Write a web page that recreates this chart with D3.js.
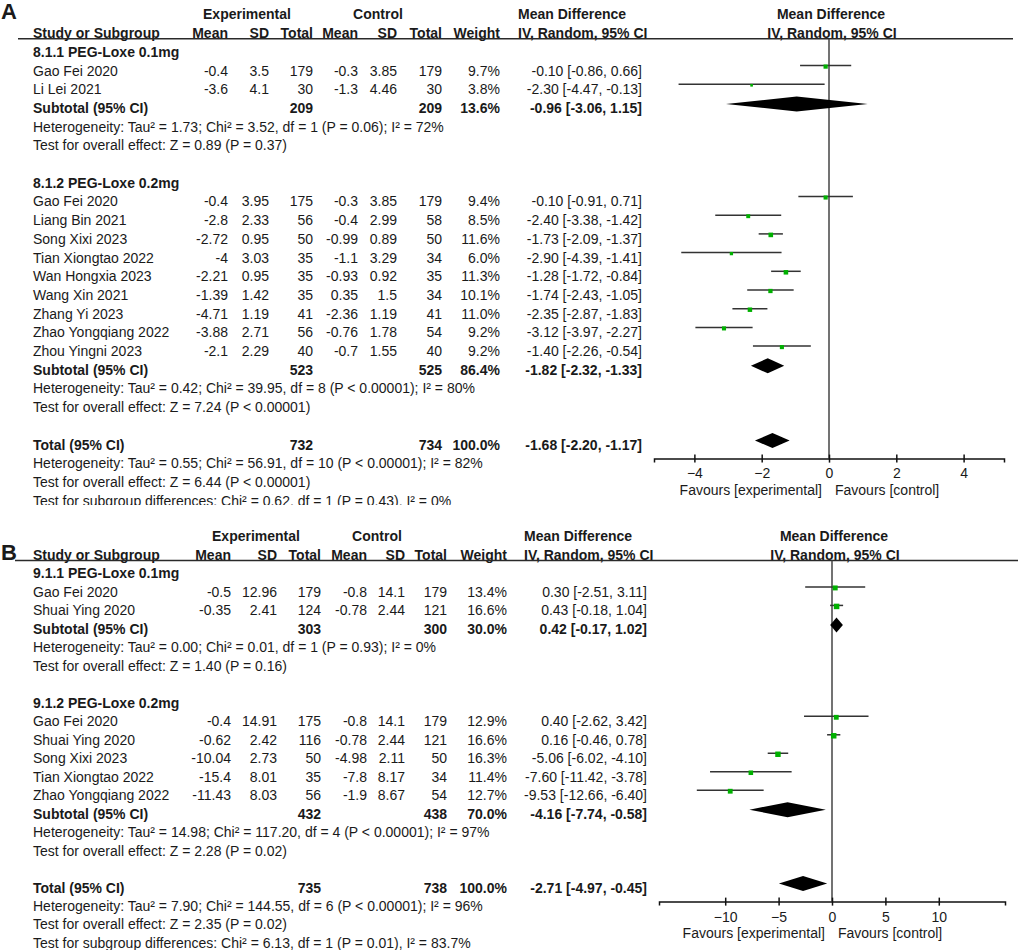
<!DOCTYPE html>
<html><head><meta charset="utf-8">
<script src="https://cdn.jsdelivr.net/npm/d3@7"></script>
<style>
body{margin:0;background:#fff}
text{font-family:"Liberation Sans",Arial,sans-serif;fill:#1a1a1a}
</style>
</head><body>
<svg id="c" width="1024" height="950"></svg>
<script>
// ---------------- Panel A data ----------------
const A_groups = ["8.1.1 PEG-Loxe 0.1mg", "8.1.2 PEG-Loxe 0.2mg"];
const A_study = ["Gao Fei 2020","Li Lei 2021","Gao Fei 2020","Liang Bin 2021","Song Xixi 2023","Tian Xiongtao 2022","Wan Hongxia 2023","Wang Xin 2021","Zhang Yi 2023","Zhao Yongqiang 2022","Zhou Yingni 2023"];
const A_group = [0,0,1,1,1,1,1,1,1,1,1];
const A_expMean = [-0.4,-3.6,-0.4,-2.8,-2.72,-4,-2.21,-1.39,-4.71,-3.88,-2.1];
const A_expSD = [3.5,4.1,3.95,2.33,0.95,3.03,0.95,1.42,1.19,2.71,2.29];
const A_expN = [179,30,175,56,50,35,35,35,41,56,40];
const A_ctlMean = [-0.3,-1.3,-0.3,-0.4,-0.99,-1.1,-0.93,0.35,-2.36,-0.76,-0.7];
const A_ctlSD = [3.85,4.46,3.85,2.99,0.89,3.29,0.92,1.5,1.19,1.78,1.55];
const A_ctlN = [179,30,179,58,50,34,35,34,41,54,40];
const A_weight = [9.7,3.8,9.4,8.5,11.6,6.0,11.3,10.1,11.0,9.2,9.2];
const A_md = [-0.10,-2.30,-0.10,-2.40,-1.73,-2.90,-1.28,-1.74,-2.35,-3.12,-1.40];
const A_lo = [-0.86,-4.47,-0.91,-3.38,-2.09,-4.39,-1.72,-2.43,-2.87,-3.97,-2.26];
const A_hi = [0.66,-0.13,0.71,-1.42,-1.37,-1.41,-0.84,-1.05,-1.83,-2.27,-0.54];
const A_subExpN = [209,523];
const A_subCtlN = [209,525];
const A_subWeight = [13.6,86.4];
const A_subMd = [-0.96,-1.82];
const A_subLo = [-3.06,-2.32];
const A_subHi = [1.15,-1.33];
const A_subHet = ["Heterogeneity: Tau² = 1.73; Chi² = 3.52, df = 1 (P = 0.06); I² = 72%",
                  "Heterogeneity: Tau² = 0.42; Chi² = 39.95, df = 8 (P < 0.00001); I² = 80%"];
const A_subTest = ["Test for overall effect: Z = 0.89 (P = 0.37)",
                   "Test for overall effect: Z = 7.24 (P < 0.00001)"];
const A_totalN = [732,734];
const A_totalEst = [-1.68,-2.20,-1.17];
const A_totalNotes = ["Heterogeneity: Tau² = 0.55; Chi² = 56.91, df = 10 (P < 0.00001); I² = 82%",
                      "Test for overall effect: Z = 6.44 (P < 0.00001)",
                      "Test for subgroup differences: Chi² = 0.62, df = 1 (P = 0.43), I² = 0%"];
const A_ticks = [-4,-2,0,2,4];
const A_domain = [-5.2,5.2];

// ---------------- Panel B data ----------------
const B_groups = ["9.1.1 PEG-Loxe 0.1mg", "9.1.2 PEG-Loxe 0.2mg"];
const B_study = ["Gao Fei 2020","Shuai Ying 2020","Gao Fei 2020","Shuai Ying 2020","Song Xixi 2023","Tian Xiongtao 2022","Zhao Yongqiang 2022"];
const B_group = [0,0,1,1,1,1,1];
const B_expMean = [-0.5,-0.35,-0.4,-0.62,-10.04,-15.4,-11.43];
const B_expSD = [12.96,2.41,14.91,2.42,2.73,8.01,8.03];
const B_expN = [179,124,175,116,50,35,56];
const B_ctlMean = [-0.8,-0.78,-0.8,-0.78,-4.98,-7.8,-1.9];
const B_ctlSD = [14.1,2.44,14.1,2.44,2.11,8.17,8.67];
const B_ctlN = [179,121,179,121,50,34,54];
const B_weight = [13.4,16.6,12.9,16.6,16.3,11.4,12.7];
const B_md = [0.30,0.43,0.40,0.16,-5.06,-7.60,-9.53];
const B_lo = [-2.51,-0.18,-2.62,-0.46,-6.02,-11.42,-12.66];
const B_hi = [3.11,1.04,3.42,0.78,-4.10,-3.78,-6.40];
const B_subExpN = [303,432];
const B_subCtlN = [300,438];
const B_subWeight = [30.0,70.0];
const B_subMd = [0.42,-4.16];
const B_subLo = [-0.17,-7.74];
const B_subHi = [1.02,-0.58];
const B_subHet = ["Heterogeneity: Tau² = 0.00; Chi² = 0.01, df = 1 (P = 0.93); I² = 0%",
                  "Heterogeneity: Tau² = 14.98; Chi² = 117.20, df = 4 (P < 0.00001); I² = 97%"];
const B_subTest = ["Test for overall effect: Z = 1.40 (P = 0.16)",
                   "Test for overall effect: Z = 2.28 (P = 0.02)"];
const B_totalN = [735,738];
const B_totalEst = [-2.71,-4.97,-0.45];
const B_totalNotes = ["Heterogeneity: Tau² = 7.90; Chi² = 144.55, df = 6 (P < 0.00001); I² = 96%",
                      "Test for overall effect: Z = 2.35 (P = 0.02)",
                      "Test for subgroup differences: Chi² = 6.13, df = 1 (P = 0.01), I² = 83.7%"];
const B_ticks = [-10,-5,0,5,10];
const B_domain = [-16.2,16.2];

const svg = d3.select("#c");
const defs = svg.append("defs");
const GREEN = "#00b000";

function fmtCI(m,l,h){ return `${m.toFixed(2)} [${l.toFixed(2)}, ${h.toFixed(2)}]`; }

function drawPanel(d, L){
  const g = svg.append("g");
  if (L.clip){
    defs.append("clipPath").attr("id", L.id).append("rect")
      .attr("x",0).attr("y",0).attr("width",1024).attr("height",L.clip);
    g.attr("clip-path", `url(#${L.id})`);
  }
  const rowY = k => L.y0 + L.dy*k;
  const x = d3.scaleLinear().domain(d.domain).range([L.x0, L.x1]);
  const c = L.c;
  const txt = (xp,k,s,anchor,bold) => g.append("text")
      .attr("x",xp).attr("y",rowY(k)).attr("dy","0.35em")
      .attr("text-anchor",anchor||"start")
      .style("font-size","14px").style("font-weight",bold?"bold":"normal").text(s);

  g.append("text").attr("x",L.labelX).attr("y",L.labelY)
    .style("font-size","22px").style("font-weight","bold").text(d.label);

  // headers
  txt(c.expCenter,0,"Experimental","middle",true);
  txt(c.ctlCenter,0,"Control","middle",true);
  txt(c.mdHead,0,"Mean Difference","start",true);
  txt(x(0)+2,0,"Mean Difference","middle",true);
  txt(c.study,1,"Study or Subgroup","start",true);
  txt(c.expMean,1,"Mean","end",true);
  txt(c.expSD,1,"SD","end",true);
  txt(c.expN,1,"Total","end",true);
  txt(c.ctlMean,1,"Mean","end",true);
  txt(c.ctlSD,1,"SD","end",true);
  txt(c.ctlN,1,"Total","end",true);
  txt(c.weight,1,"Weight","end",true);
  txt(c.mdHead,1,"IV, Random, 95% CI","start",true);
  txt(x(0)+3,1,"IV, Random, 95% CI","middle",true);
  const lineY = rowY(1)+5.5;
  g.append("line").attr("x1",L.lineX0).attr("x2",L.lineX1).attr("y1",lineY).attr("y2",lineY)
    .attr("stroke","#2a2a2a").attr("stroke-width",1.5);

  const marks = g.append("g");
  const diamond = (k,m,l,h) => {
    const yc = rowY(k)-4, hh = 7.5;
    marks.append("path")
      .attr("d",`M${x(l)},${yc}L${x(m)},${yc-hh}L${x(h)},${yc}L${x(m)},${yc+hh}Z`)
      .attr("fill","#000");
  };

  let k = 2;
  d.groups.forEach((gname,gi) => {
    txt(c.study,k,gname,"start",true); k++;
    d.study.forEach((s,i) => {
      if (d.group[i]!==gi) return;
      txt(c.study,k,s);
      txt(c.expMean,k,String(d.expMean[i]),"end");
      txt(c.expSD,k,String(d.expSD[i]),"end");
      txt(c.expN,k,String(d.expN[i]),"end");
      txt(c.ctlMean,k,String(d.ctlMean[i]),"end");
      txt(c.ctlSD,k,String(d.ctlSD[i]),"end");
      txt(c.ctlN,k,String(d.ctlN[i]),"end");
      txt(c.weight,k,d.weight[i].toFixed(1)+"%","end");
      txt(c.ci,k,fmtCI(d.md[i],d.lo[i],d.hi[i]),"end");
      const yc = rowY(k)-5;
      marks.append("line").attr("x1",x(d.lo[i])).attr("x2",x(d.hi[i]))
        .attr("y1",yc).attr("y2",yc).attr("stroke","#333").attr("stroke-width",1.5);
      const sz = 1.35*Math.sqrt(d.weight[i]);
      marks.append("rect").attr("x",x(d.md[i])-sz/2).attr("y",yc+1-sz/2)
        .attr("width",sz).attr("height",sz).attr("fill",GREEN);
      k++;
    });
    txt(c.study,k,"Subtotal (95% CI)","start",true);
    txt(c.expN,k,String(d.subExpN[gi]),"end",true);
    txt(c.ctlN,k,String(d.subCtlN[gi]),"end",true);
    txt(c.weight,k,d.subWeight[gi].toFixed(1)+"%","end",true);
    txt(c.ci,k,fmtCI(d.subMd[gi],d.subLo[gi],d.subHi[gi]),"end",true);
    diamond(k,d.subMd[gi],d.subLo[gi],d.subHi[gi]);
    k++;
    txt(c.study,k,d.subHet[gi]); k++;
    txt(c.study,k,d.subTest[gi]); k++;
    k++;
  });
  const totalK = k;
  txt(c.study,k,"Total (95% CI)","start",true);
  txt(c.expN,k,String(d.totalN[0]),"end",true);
  txt(c.ctlN,k,String(d.totalN[1]),"end",true);
  txt(c.weight,k,"100.0%","end",true);
  txt(c.ci,k,fmtCI(d.totalEst[0],d.totalEst[1],d.totalEst[2]),"end",true);
  diamond(k,d.totalEst[0],d.totalEst[1],d.totalEst[2]);
  k++;
  d.totalNotes.forEach(s => { txt(c.study,k,s); k++; });

  // axis
  const axisY = rowY(totalK)+14;
  g.append("line").attr("x1",x(0)).attr("x2",x(0)).attr("y1",lineY).attr("y2",axisY)
    .attr("stroke","#444").attr("stroke-width",1.5);
  const ax = g.append("g").attr("transform",`translate(0,${axisY})`)
    .call(d3.axisBottom(x).tickValues(d.ticks).tickSizeOuter(0).tickSize(4).tickFormat(d3.format("d")));
  ax.select(".domain").attr("stroke","#111").attr("stroke-width",1.5);
  ax.selectAll(".tick line").attr("y1",-4).attr("y2",4).attr("stroke","#111").attr("stroke-width",1.5);
  ax.selectAll(".tick text").attr("y",15).attr("dy","0.35em")
    .style("font-size","14px").style("font-family",'"Liberation Sans",Arial,sans-serif').attr("fill","#1a1a1a");
  g.append("text").attr("x",x(0)-7).attr("y",axisY+31).attr("dy","0.35em").attr("text-anchor","end")
    .style("font-size","14px").text("Favours [experimental]");
  g.append("text").attr("x",x(0)+6).attr("y",axisY+31).attr("dy","0.35em").attr("text-anchor","start")
    .style("font-size","14px").text("Favours [control]");
  marks.raise();
}

drawPanel({
  label:"A", groups:A_groups, study:A_study, group:A_group,
  expMean:A_expMean, expSD:A_expSD, expN:A_expN, ctlMean:A_ctlMean, ctlSD:A_ctlSD, ctlN:A_ctlN,
  weight:A_weight, md:A_md, lo:A_lo, hi:A_hi,
  subExpN:A_subExpN, subCtlN:A_subCtlN, subWeight:A_subWeight, subMd:A_subMd, subLo:A_subLo, subHi:A_subHi,
  subHet:A_subHet, subTest:A_subTest, totalN:A_totalN, totalEst:A_totalEst, totalNotes:A_totalNotes,
  ticks:A_ticks, domain:A_domain
},{
  id:"clipA", clip:505, y0:14.5, dy:18.7, x0:654, x1:1004, labelX:1, labelY:18.5,
  lineX0:18, lineX1:1013,
  c:{study:33, expMean:228, expSD:269, expN:313, ctlMean:358, ctlSD:397, ctlN:442, weight:500, ci:642,
     mdHead:518, expCenter:247, ctlCenter:378}
});

drawPanel({
  label:"B", groups:B_groups, study:B_study, group:B_group,
  expMean:B_expMean, expSD:B_expSD, expN:B_expN, ctlMean:B_ctlMean, ctlSD:B_ctlSD, ctlN:B_ctlN,
  weight:B_weight, md:B_md, lo:B_lo, hi:B_hi,
  subExpN:B_subExpN, subCtlN:B_subCtlN, subWeight:B_subWeight, subMd:B_subMd, subLo:B_subLo, subHi:B_subHi,
  subHet:B_subHet, subTest:B_subTest, totalN:B_totalN, totalEst:B_totalEst, totalNotes:B_totalNotes,
  ticks:B_ticks, domain:B_domain
},{
  id:"clipB", clip:null, y0:536.5, dy:18.48, x0:659, x1:1005, labelX:1, labelY:560,
  lineX0:15, lineX1:1018,
  c:{study:33, expMean:231, expSD:277, expN:321, ctlMean:367, ctlSD:405, ctlN:447, weight:507, ci:647,
     mdHead:524, expCenter:256, ctlCenter:377}
});
</script>
</body></html>
